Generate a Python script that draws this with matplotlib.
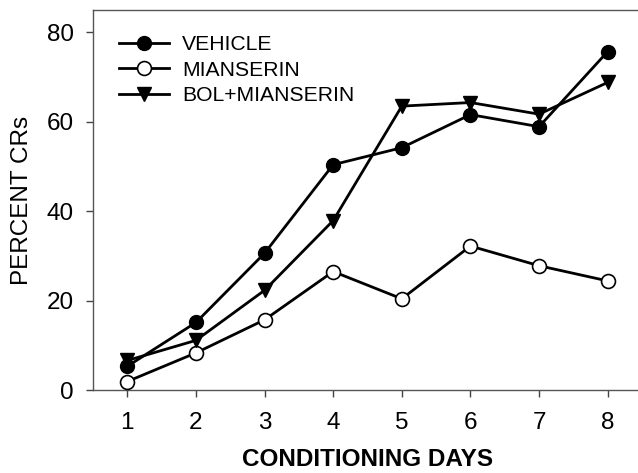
import matplotlib.pyplot as plt

plt.rcParams['font.family'] = ['Liberation Sans', 'DejaVu Sans']

days = [1, 2, 3, 4, 5, 6, 7, 8]
vehicle = [5.3, 15.1, 30.6, 50.4, 54.2, 61.6, 58.9, 75.7]
mianserin = [1.9, 8.3, 15.7, 26.5, 20.4, 32.2, 27.8, 24.4]
bol_mianserin = [6.6, 11.1, 22.3, 37.9, 63.5, 64.3, 61.7, 68.8]
y_ticks = [0, 20, 40, 60, 80]

fig = plt.figure(figsize=(6.38, 4.73), dpi=100)
# right spine sits just outside the picture in the reference
ax = fig.add_axes([93 / 638, 83 / 473, 549 / 638, 380 / 473])

ax.plot(days, vehicle, color='black', lw=2, marker='o', ms=10,
        mfc='black', mec='black', label='VEHICLE', zorder=3)
ax.plot(days, mianserin, color='black', lw=2, marker='o', ms=10,
        mfc='white', mec='black', mew=1.2, label='MIANSERIN', zorder=3)
ax.plot(days, bol_mianserin, color='black', lw=2, marker='v', ms=10,
        mfc='black', mec='black', label='BOL+MIANSERIN', zorder=3)

ax.set_xlim(0.5, 8.5)
ax.set_ylim(0, 85)
ax.set_xticks(days)
ax.set_yticks(y_ticks)
ax.tick_params(labelsize=17.5, direction='out', length=5, width=1, colors='#444444',
               labelcolor='black')
ax.tick_params(axis='x', pad=11)
ax.tick_params(axis='y', pad=9)
for sp in ax.spines.values():
    sp.set_color('#555555')
    sp.set_linewidth(1)

ax.set_xlabel('CONDITIONING DAYS', fontsize=17.5, fontweight='bold', labelpad=10)
ax.set_ylabel('PERCENT CRs', fontsize=17.5, labelpad=10)

ax.legend(loc='upper left', bbox_to_anchor=(0.02, 0.972), frameon=False,
          fontsize=15.2, handlelength=2.4, handletextpad=0.6, labelspacing=0.3,
          borderaxespad=0.3)

fig.savefig('out.png', dpi=100)
